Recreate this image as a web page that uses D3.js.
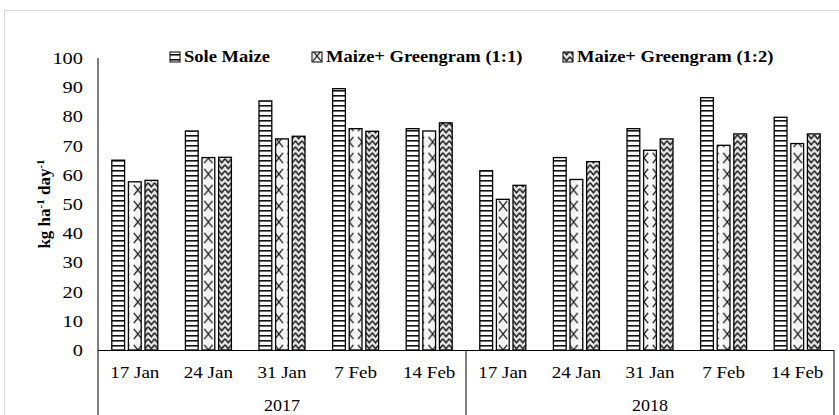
<!DOCTYPE html>
<html>
<head>
<meta charset="utf-8">
<script src="https://cdn.jsdelivr.net/npm/d3@7"></script>
<style>
  html, body { margin: 0; padding: 0; background: #fff; }
  svg { display: block; }
  svg text { font-family: 'Liberation Serif', 'Times New Roman', 'DejaVu Serif', serif; }
</style>
</head>
<body>
<svg id="chart" width="839" height="415"></svg>
<script>
// ---- data ----
const years = ["2017", "2018"];
const dates = ["17 Jan", "24 Jan", "31 Jan", "7 Feb", "14 Feb"];
const seriesNames = ["Sole Maize", "Maize+ Greengram (1:1)", "Maize+ Greengram (1:2)"];
const soleMaize   = [65, 75, 85.3, 89.5, 75.8,   61.4, 65.9, 75.8, 86.4, 79.7];
const greengram11 = [57.6, 65.9, 72.3, 75.8, 75,  51.6, 58.4, 68.4, 70.1, 70.7];
const greengram12 = [58.1, 66, 73.2, 74.9, 77.8,  56.4, 64.5, 72.3, 74, 74];
const yTicks = [0, 10, 20, 30, 40, 50, 60, 70, 80, 90, 100];

(function () {
const cats = [];
years.forEach((yr, yi) => dates.forEach((d, di) => cats.push({ key: yr + "|" + d, year: yr, date: d, idx: yi * dates.length + di })));
const seriesVals = [soleMaize, greengram11, greengram12];
const patKinds = ["hstripe", "cross", "chevron"];

const svg = d3.select("#chart");
const defs = svg.append("defs");

svg.append("rect").attr("x", 4.5).attr("y", 10.5).attr("width", 860).attr("height", 430)
  .attr("fill", "#fff").attr("stroke", "#d9d9d9").attr("stroke-width", 1);

const pLeft = 98, pRight = 834, pTop = 58, pBottom = 350;

const x0 = d3.scaleBand().domain(cats.map(c => c.key)).range([pLeft, pRight])
  .paddingInner(0.375).paddingOuter(0.1875);
const x1 = d3.scaleBand().domain(d3.range(3)).range([0, x0.bandwidth()]).paddingInner(0.23);
const y = d3.scaleLinear().domain([0, 100]).range([pBottom, pTop]);

function makePattern(id, kind, px, py) {
  const p = defs.append("pattern").attr("id", id).attr("patternUnits", "userSpaceOnUse")
    .attr("x", px).attr("y", py);
  if (kind === "hstripe") {
    p.attr("width", 6).attr("height", 5);
    p.append("rect").attr("width", 6).attr("height", 5).attr("fill", "#fff");
    p.append("rect").attr("y", 0).attr("width", 6).attr("height", 1.6).attr("fill", "#111");
  } else if (kind === "cross") {
    const w = x1.bandwidth(), h = 16;
    p.attr("width", w).attr("height", h);
    p.append("rect").attr("width", w).attr("height", h).attr("fill", "#f2f2f2");
    p.append("path").attr("d", `M0,0L${w},${h}M${w},0L0,${h}`)
      .attr("stroke", "#222").attr("stroke-width", 1.3).attr("fill", "none");
    p.append("path").attr("d", `M${w/2},${h*0.15}L${w*0.85},${h/2}L${w/2},${h*0.85}L${w*0.15},${h/2}Z`)
      .attr("fill", "#fff");
  } else {
    const w = x1.bandwidth() / 2, h = 6;
    p.attr("width", w).attr("height", h);
    p.append("rect").attr("width", w).attr("height", h).attr("fill", "#e6e6e6");
    p.append("path").attr("d", `M0,0.8L${w/2},${h-1.2}L${w},0.8`)
      .attr("stroke", "#222").attr("stroke-width", 1.4).attr("fill", "none");
  }
  return "url(#" + id + ")";
}

const groups = svg.append("g").selectAll("g").data(cats).join("g")
  .attr("transform", c => `translate(${x0(c.key)},0)`);

groups.selectAll("rect").data(c => seriesVals.map((s, si) => ({ si, v: s[c.idx], c })))
  .join("rect")
  .attr("x", d => x1(d.si))
  .attr("y", d => y(d.v))
  .attr("width", x1.bandwidth())
  .attr("height", d => y(0) - y(d.v))
  .attr("fill", d => makePattern(`p${d.c.idx}_${d.si}`, patKinds[d.si], x0(d.c.key) + x1(d.si), y(0)))
  .attr("stroke", "#000").attr("stroke-width", 1.3);

const FS = 17;
const STRETCH = 1.12;
function stretch(sel, f) {
  sel.each(function () {
    const L = this.getComputedTextLength();
    d3.select(this).attr("textLength", L * f).attr("lengthAdjust", "spacingAndGlyphs");
  });
}

const yAxis = d3.axisLeft(y).tickValues(yTicks).tickSize(0).tickPadding(15);
const gy = svg.append("g").attr("transform", `translate(${pLeft},0)`).call(yAxis);
gy.attr("font-family", null);
gy.select(".domain").remove();
gy.selectAll("text").attr("font-size", FS).attr("fill", "#000").call(stretch, 1.2);

svg.append("line").attr("x1", pLeft).attr("x2", pLeft).attr("y1", pTop).attr("y2", 415)
  .attr("stroke", "#000").attr("stroke-width", 1);
svg.append("line").attr("x1", pLeft).attr("x2", pRight).attr("y1", pBottom + 0.5).attr("y2", pBottom + 0.5)
  .attr("stroke", "#000").attr("stroke-width", 1);

const xAxis = d3.axisBottom(x0).tickSize(0).tickPadding(16).tickFormat(k => k.split("|")[1]);
const gx = svg.append("g").attr("transform", `translate(0,${pBottom})`).call(xAxis);
gx.attr("font-family", null);
gx.select(".domain").remove();
gx.selectAll("text").attr("font-size", FS).attr("fill", "#000").call(stretch, STRETCH);

const yearScale = d3.scaleBand().domain(years).range([pLeft, pRight]);
years.forEach(yr => {
  const xe = yearScale(yr) + yearScale.bandwidth();
  svg.append("line").attr("x1", xe).attr("x2", xe).attr("y1", pBottom).attr("y2", 415)
    .attr("stroke", "#000").attr("stroke-width", 1);
  svg.append("text").attr("x", yearScale(yr) + yearScale.bandwidth() / 2).attr("y", 411)
    .attr("text-anchor", "middle").attr("font-size", FS).text(yr).call(stretch, 1.06);
});

const yt = svg.append("text").attr("transform", `translate(50,${(pTop + pBottom) / 2}) rotate(-90)`)
  .attr("text-anchor", "middle").attr("font-size", FS).attr("font-weight", "bold");
yt.append("tspan").text("kg ha");
yt.append("tspan").attr("font-size", 11).attr("dy", -6).text("-1");
yt.append("tspan").attr("dy", 6).text(" day");
yt.append("tspan").attr("font-size", 11).attr("dy", -6).text("-1");

const legendX = [170, 312, 563];
const lg = svg.append("g").selectAll("g").data(seriesNames).join("g")
  .attr("transform", (d, i) => `translate(${legendX[i]},52)`);
lg.append("rect").attr("width", 10).attr("height", 10)
  .attr("fill", (d, i) => makePattern("leg" + i, patKinds[i], legendX[i], 52))
  .attr("stroke", "#000").attr("stroke-width", 1);
lg.append("text").attr("x", 14).attr("y", 10).attr("font-size", FS).attr("font-weight", "bold").text(d => d)
  .call(stretch, 1.09);
})();
</script>
</body>
</html>
